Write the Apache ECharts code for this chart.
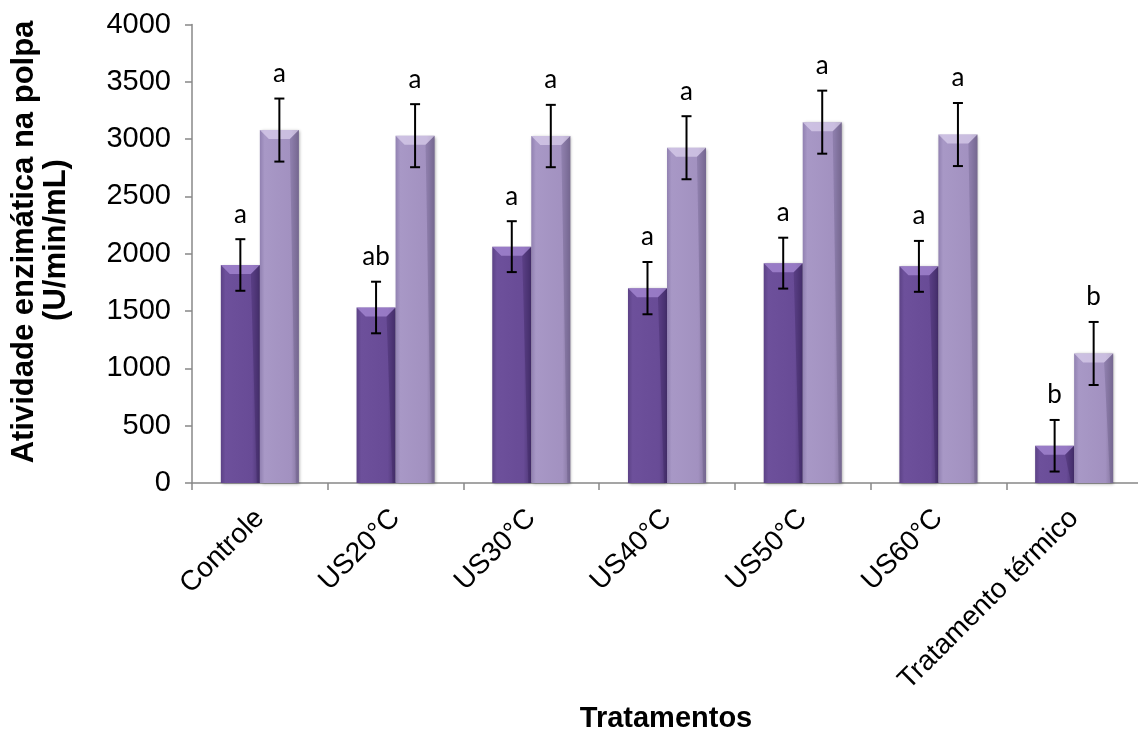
<!DOCTYPE html>
<html>
<head>
<meta charset="utf-8">
<script src="https://cdn.jsdelivr.net/npm/echarts@6/dist/echarts.min.js"></script>
<style>
  html, body { margin: 0; padding: 0; background: #fff; }
  #chart { width: 1138px; height: 734px; }
</style>
</head>
<body>
<div id="chart"></div>
<script>
// Treatments on the x axis
const categories = ['Controle', 'US20°C', 'US30°C', 'US40°C', 'US50°C', 'US60°C', 'Tratamento térmico'];

// Enzyme activity (U/min/mL), two measurement series
const seriesDark = [1902, 1531, 2062, 1700, 1918, 1890, 325];
const seriesLight = [3079, 3030, 3027, 2925, 3148, 3040, 1130];

// Standard deviations (error bars)
const errDark = [225, 225, 222, 228, 222, 222, 225];
const errLight = [275, 275, 272, 275, 275, 275, 275];

// Significance letters shown above each bar
const lettersDark = ['a', 'ab', 'a', 'a', 'a', 'a', 'b'];
const lettersLight = ['a', 'a', 'a', 'a', 'a', 'a', 'b'];

// Y axis ticks
const yMin = 0, yMax = 4000, yStep = 500;

const CAT_GAP = 0.425; // share of a category left empty around the pair of bars

const chart = echarts.init(document.getElementById('chart'), null, { renderer: 'canvas' });

function hGrad(stops) {
  return new echarts.graphic.LinearGradient(0, 0, 1, 0,
    stops.map(s => ({ offset: s[0], color: s[1] })));
}

// Overlay for one series: bevelled top, error bar and letter
function overlay(values, errs, letters, side, bevelTop, bevelEdge) {
  return {
    type: 'custom',
    z: 5,
    silent: true,
    data: values.map((v, i) => [i, v, errs[i]]),
    encode: { x: 0, y: 1 },
    renderItem: function (params, api) {
      const i = api.value(0), v = api.value(1), e = api.value(2);
      const band = api.size([1, 0])[0];
      const bw = band * (1 - CAT_GAP) / 2;
      const c = api.coord([i, v]);
      const cx = c[0] + side * bw / 2;
      const top = c[1];
      const base = api.coord([i, 0])[1];
      const x0 = cx - bw / 2, x1 = cx + bw / 2;
      const b = Math.min(9, (base - top) / 2);
      const hi = api.coord([i, v + e])[1];
      const lo = api.coord([i, v - e])[1];
      const cap = 5;
      const line = { stroke: '#000', lineWidth: 2 };
      return {
        type: 'group',
        children: [
          { type: 'polygon', shape: { points: [[x0, top], [x1, top], [x1 - b, top + b], [x0 + b, top + b]] },
            style: { fill: bevelTop } },
          { type: 'polygon', shape: { points: [[x1, top], [x1, base], [x1 - 3, base], [x1 - b, top + b]] },
            style: { fill: bevelEdge } },
          { type: 'line', shape: { x1: cx, y1: hi, x2: cx, y2: lo }, style: line },
          { type: 'line', shape: { x1: cx - cap, y1: hi, x2: cx + cap, y2: hi }, style: line },
          { type: 'line', shape: { x1: cx - cap, y1: lo, x2: cx + cap, y2: lo }, style: line },
          { type: 'text', x: cx, y: hi - 12,
            style: { text: letters[params.dataIndex], fill: '#000',
              font: '26px Lato, "Open Sans", sans-serif', textAlign: 'center', textVerticalAlign: 'bottom' } }
        ]
      };
    }
  };
}

const option = {
  backgroundColor: '#ffffff',
  animation: false,
  grid: { left: 192, right: -4, top: 24.5, bottom: 251, containLabel: false, outerBoundsMode: 'none' },
  xAxis: {
    type: 'category',
    data: categories,
    axisLine: { show: true, lineStyle: { color: '#888888', width: 1.5 } },
    axisTick: { show: true, length: 7, lineStyle: { color: '#888888', width: 1.5 } },
    axisLabel: {
      interval: 0, rotate: 45, margin: 31, color: '#000',
      fontSize: 28, fontFamily: '"Liberation Sans", Arial, sans-serif'
    },
    splitLine: { show: false }
  },
  yAxis: {
    type: 'value',
    min: yMin, max: yMax, interval: yStep,
    axisLine: { show: true, lineStyle: { color: '#888888', width: 1.5 } },
    axisTick: { show: true, length: 7, lineStyle: { color: '#888888', width: 1.5 } },
    axisLabel: {
      margin: 21, color: '#000',
      fontSize: 29, fontFamily: '"Liberation Sans", Arial, sans-serif',
      formatter: v => String(v)
    },
    splitLine: { show: false }
  },
  graphic: [
    { type: 'text', x: 24, y: 242, rotation: Math.PI / 2,
      style: { text: 'Atividade enzimática na polpa', fill: '#000',
        font: 'bold 31px "Liberation Sans", Arial, sans-serif', textAlign: 'center', textVerticalAlign: 'middle' } },
    { type: 'text', x: 56, y: 240, rotation: Math.PI / 2,
      style: { text: '(U/min/mL)', fill: '#000',
        font: 'bold 31px "Liberation Sans", Arial, sans-serif', textAlign: 'center', textVerticalAlign: 'middle' } },
    { type: 'text', x: 666, y: 719,
      style: { text: 'Tratamentos', fill: '#000',
        font: 'bold 29px "Liberation Sans", Arial, sans-serif', textAlign: 'center', textVerticalAlign: 'middle' } }
  ],
  series: [
    {
      type: 'bar',
      data: seriesDark,
      barGap: '0%',
      barCategoryGap: (CAT_GAP * 100) + '%',
      itemStyle: {
        color: hGrad([[0, '#5c4286'], [0.12, '#6d509b'], [0.8, '#684b96'], [1, '#4c3574']]),
        shadowColor: 'rgba(0,0,0,0.35)', shadowBlur: 3, shadowOffsetX: 1, shadowOffsetY: 1
      }
    },
    {
      type: 'bar',
      data: seriesLight,
      itemStyle: {
        color: hGrad([[0, '#9181b1'], [0.12, '#a898c6'], [0.8, '#a291c0'], [1, '#83749d']]),
        shadowColor: 'rgba(0,0,0,0.35)', shadowBlur: 3, shadowOffsetX: 1, shadowOffsetY: 1
      }
    },
    overlay(seriesDark, errDark, lettersDark, -1, 'rgba(190,160,235,0.55)', 'rgba(40,20,70,0.25)'),
    overlay(seriesLight, errLight, lettersLight, 1, 'rgba(235,225,250,0.55)', 'rgba(60,50,90,0.2)')
  ]
};

chart.setOption(option);
</script>
</body>
</html>
